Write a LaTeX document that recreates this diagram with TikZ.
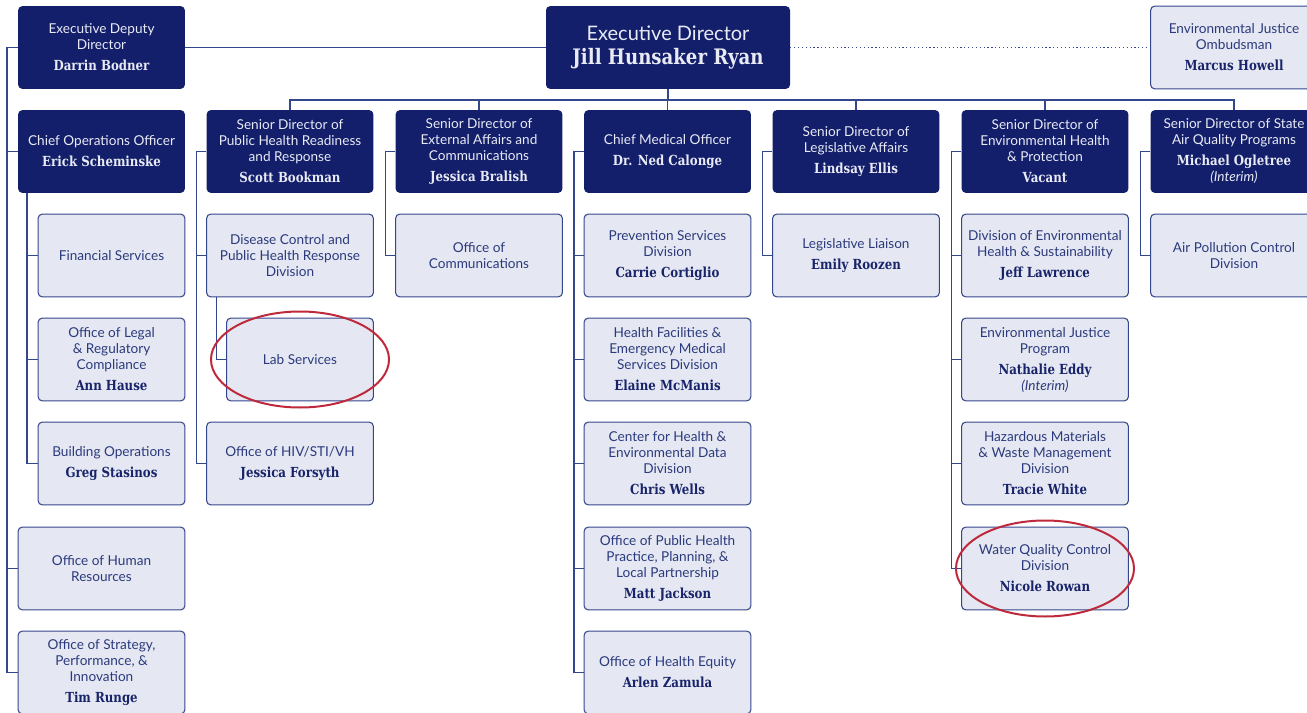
\documentclass[tikz,border=0pt]{standalone}
\usepackage{fontspec}
\setmainfont{Lato}
\newfontfamily\slab[FakeStretch=0.85]{DejaVu Serif}
\usetikzlibrary{calc}
\definecolor{CD_Navy}{HTML}{131F6B}
\definecolor{CD_Line}{HTML}{34468C}
\definecolor{CD_Pale}{HTML}{E5E8F2}
\definecolor{CD_Ink}{HTML}{2B3A7C}
\definecolor{CD_Name}{HTML}{18236A}
\definecolor{CD_Soft}{HTML}{E8EAF4}
\definecolor{CD_Red}{HTML}{BE2A3C}
\newcommand{\who}[1]{{\slab\bfseries\fontsize{10.4}{12}\selectfont #1}}
\newcommand{\interim}{{\itshape (Interim)}}

\begin{document}
\begin{tikzpicture}[x=0.75pt, y=-0.75pt,
    lead/.style={fill=CD_Navy, rounded corners=3pt, minimum width=125pt, minimum height=62pt,
        align=center, text=CD_Soft, inner sep=2pt, font=\fontsize{10.2}{12}\selectfont},
    unit/.style={draw=CD_Line, line width=0.8pt, fill=CD_Pale, rounded corners=3pt,
        minimum width=125pt, minimum height=62pt, align=center, text=CD_Ink,
        inner sep=2pt, font=\fontsize{10.2}{12}\selectfont},
    narrow/.style={unit, minimum width=110pt},
    link/.style={draw=CD_Line, line width=0.9pt},
    ring/.style={draw=CD_Red, line width=1.5pt}]
    \useasboundingbox (0,0) rectangle (1307,713);

    % Top row
    \node[lead] (dep) at (101.5,47.5) {Executive Deputy\\Director\\[3.75pt]\who{Darrin Bodner}};
    \node[lead, minimum width=183pt, font=\fontsize{15}{18}\selectfont] (dir) at (668,47.5)
        {Executive Director\\{\slab\bfseries\fontsize{16}{18}\selectfont Jill Hunsaker Ryan}};
    \node[unit, text=CD_Ink] (omb) at (1234,47.5) {Environmental Justice\\Ombudsman\\[3.75pt]{\color{CD_Name}\who{Marcus Howell}}};

    % Senior directors
    \node[lead] (coo) at (101.5,151.5) {Chief Operations Officer\\[3.75pt]\who{Erick Scheminske}};
    \node[lead] (phr) at (290,151.5) {Senior Director of\\Public Health Readiness\\and Response\\[3.75pt]\who{Scott Bookman}};
    \node[lead] (eac) at (479,151.5) {Senior Director of\\External Affairs and\\Communications\\[3.75pt]\who{Jessica Bralish}};
    \node[lead] (cmo) at (667.5,151.5) {Chief Medical Officer\\[3.75pt]\who{Dr. Ned Calonge}};
    \node[lead] (lga) at (856,151.5) {Senior Director of\\Legislative Affairs\\[3.75pt]\who{Lindsay Ellis}};
    \node[lead] (ehp) at (1045,151.5) {Senior Director of\\Environmental Health\\\& Protection\\[3.75pt]\who{Vacant}};
    \node[lead] (saq) at (1234,151.5) {Senior Director of State\\Air Quality Programs\\[3.75pt]\who{Michael Ogletree}\\\interim};

    % Operations
    \node[narrow] (fin) at (111.5,255.5) {Financial Services};
    \node[narrow] (leg) at (111.5,359.5) {Office of Legal\\\& Regulatory\\Compliance\\[3.75pt]{\color{CD_Name}\who{Ann Hause}}};
    \node[narrow] (bop) at (111.5,463.5) {Building Operations\\[3.75pt]{\color{CD_Name}\who{Greg Stasinos}}};
    \node[unit] (ohr) at (101.5,568.5) {Office of Human\\Resources};
    \node[unit] (osp) at (101.5,672.5) {Office of Strategy,\\Performance, \&\\Innovation\\[3.75pt]{\color{CD_Name}\who{Tim Runge}}};

    % Readiness and response
    \node[unit] (dcd) at (290,255.5) {Disease Control and\\Public Health Response\\Division};
    \node[narrow] (lab) at (300,359.5) {Lab Services};
    \node[unit] (hiv) at (290,463.5) {Office of HIV/STI/VH\\[3.75pt]{\color{CD_Name}\who{Jessica Forsyth}}};

    % External affairs
    \node[unit] (com) at (479,255.5) {Office of\\Communications};

    % Medical
    \node[unit] (psd) at (667.5,255.5) {Prevention Services\\Division\\[3.75pt]{\color{CD_Name}\who{Carrie Cortiglio}}};
    \node[unit] (hfe) at (667.5,359.5) {Health Facilities \&\\Emergency Medical\\Services Division\\[3.75pt]{\color{CD_Name}\who{Elaine McManis}}};
    \node[unit] (ced) at (667.5,463.5) {Center for Health \&\\Environmental Data\\Division\\[3.75pt]{\color{CD_Name}\who{Chris Wells}}};
    \node[unit] (opp) at (667.5,568.5) {Office of Public Health\\Practice, Planning, \&\\Local Partnership\\[3.75pt]{\color{CD_Name}\who{Matt Jackson}}};
    \node[unit] (ohe) at (667.5,672.5) {Office of Health Equity\\[3.75pt]{\color{CD_Name}\who{Arlen Zamula}}};

    % Legislative
    \node[unit] (lli) at (856,255.5) {Legislative Liaison\\[3.75pt]{\color{CD_Name}\who{Emily Roozen}}};

    % Environmental health
    \node[unit] (ehs) at (1045,255.5) {Division of Environmental\\Health \& Sustainability\\[3.75pt]{\color{CD_Name}\who{Jeff Lawrence}}};
    \node[unit] (ejp) at (1045,359.5) {Environmental Justice\\Program\\[3.75pt]{\color{CD_Name}\who{Nathalie Eddy}}\\\interim};
    \node[unit] (hmw) at (1045,463.5) {Hazardous Materials\\\& Waste Management\\Division\\[3.75pt]{\color{CD_Name}\who{Tracie White}}};
    \node[unit] (wqc) at (1045,568.5) {Water Quality Control\\Division\\[3.75pt]{\color{CD_Name}\who{Nicole Rowan}}};

    % Air quality
    \node[unit] (apc) at (1234,255.5) {Air Pollution Control\\Division};

    % Top links
    \draw[link] (dep.east) -- (dir.west);
    \draw[link, dotted] (dir.east) -- (omb.west);
    \draw[link] (dep.west) -- ++(-11,0) |- (osp.west);
    \draw[link] (coo.west) -- ++(-11,0);
    \draw[link] (ohr.west) -- ++(-11,0);

    % Bus to senior directors
    \draw[link] (dir.south) -- ++(0,11) coordinate (bus);
    \draw[link] (phr.north) |- (bus) -| (saq.north);
    \foreach \n in {eac,cmo,lga,ehp}
        \draw[link] (\n.north) -- (\n.north |- bus);

    % Branches
    \draw[link] (bop.west) -| ($(coo.south west)+(9,0)$);
    \foreach \n in {fin,leg}
        \draw[link] (\n.west) -- ++(-11,0);
    \draw[link] (phr.west) -- ++(-10,0) |- (hiv.west);
    \draw[link] (dcd.west) -- ++(-10,0);
    \draw[link] ($(dcd.south west)+(10,0)$) |- (lab.west);
    \draw[link] (eac.west) -- ++(-10,0) |- (com.west);
    \draw[link] (cmo.west) -- ++(-10,0) |- (ohe.west);
    \foreach \n in {psd,hfe,ced,opp}
        \draw[link] (\n.west) -- ++(-10,0);
    \draw[link] (lga.west) -- ++(-10,0) |- (lli.west);
    \draw[link] (ehp.west) -- ++(-10,0) |- (wqc.west);
    \foreach \n in {ehs,ejp,hmw}
        \draw[link] (\n.west) -- ++(-10,0);
    \draw[link] (saq.west) -- ++(-10,0) |- (apc.west);

    % Highlight rings
    \draw[ring] (lab.center) ellipse [x radius=89, y radius=48];
    \draw[ring] (wqc.center) ellipse [x radius=89, y radius=48];
\end{tikzpicture}
\end{document}
